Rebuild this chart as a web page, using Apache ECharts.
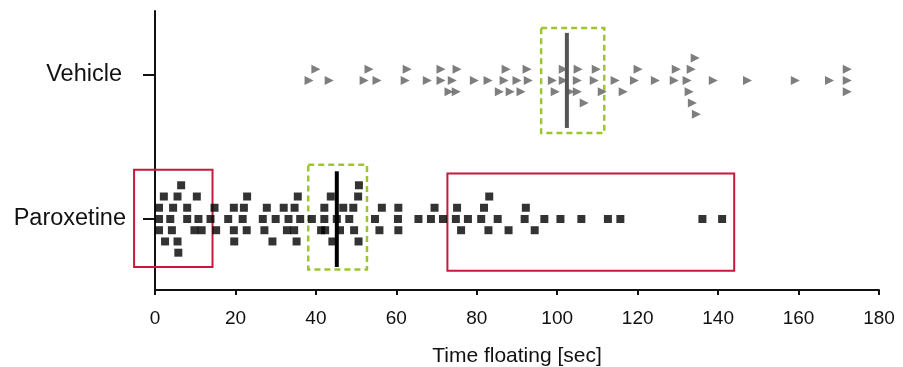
<!DOCTYPE html>
<html>
<head>
<meta charset="utf-8">
<script src="https://cdn.jsdelivr.net/npm/echarts@6/dist/echarts.min.js"></script>
<style>
  html, body { margin: 0; padding: 0; background: #fff; }
  #chart { width: 903px; height: 367px; }
</style>
</head>
<body>
<div id="chart"></div>
<script>
// y positions: Paroxetine = 0, Vehicle = 1; swarm rows offset by rowStep
const categories = ['Paroxetine', 'Vehicle']
const rowStep = 0.078

// Vehicle: time (sec) of each animal, grouped by swarm row
const vehicleRowLevels = [1.5, 0.5, -0.5, -1.5, -2.5, -3.5]
const vehicleRowTimes = [
  [134.3],
  [40.0, 53.2, 62.7, 71.1, 75.1, 87.3, 92.5, 101.5, 105.2, 109.7, 120.1, 129.6, 133.3, 172.1],
  [38.3, 43.3, 52.0, 55.2, 62.2, 67.7, 71.1, 73.9, 79.4, 82.8, 86.8, 90.0, 92.8, 98.8, 101.5,
    105.0, 109.2, 114.4, 119.2, 124.4, 129.1, 132.3, 138.8, 147.3, 159.2, 167.7, 172.1],
  [73.1, 74.9, 85.6, 88.3, 91.0, 99.5, 103.2, 105.0, 111.2, 116.4, 132.8, 172.1],
  [106.7, 133.6],
  [134.6],
]

// Paroxetine
const paroxRowLevels = [3, 2, 1, 0, -1, -2, -3]
const paroxRowTimes = [
  [6.5, 50.7],
  [2.2, 5.6, 10.4, 22.9, 35.5, 43.7, 50.5, 83.1],
  [1.0, 4.5, 8.0, 14.8, 19.6, 22.1, 27.8, 32.0, 34.7, 42.1, 46.8, 49.3, 56.4, 60.5, 69.5, 75.1, 81.8, 92.2],
  [1.0, 3.8, 8.0, 10.8, 13.8, 18.2, 21.8, 26.8, 30.0, 33.2, 36.1, 39.0, 42.1, 45.2, 48.3, 54.7, 60.4,
    65.5, 68.6, 71.6, 74.8, 77.8, 81.1, 85.2, 91.9, 96.8, 100.8, 106.0, 112.6, 115.7, 136.1, 141.0],
  [1.0, 4.2, 9.8, 11.6, 15.2, 19.6, 22.8, 27.2, 32.8, 34.6, 41.3, 42.3, 46.0, 49.5, 55.8, 60.5, 76.1, 82.9, 87.9, 94.4],
  [2.5, 5.6, 19.7, 29.2, 35.2, 44.1, 50.6],
  [5.8],
]

// group means (sec) and the vertical extent of each mean bar
const meanTimes = [45.2, 102.4]
const meanBarSpan = [[-0.333, 0.331], [-0.368, 0.292]]

// highlight boxes: [startSec, endSec, bottom, top, kind]
const boxes = [
  [-5.2, 14.3, -0.333, 0.342, 'red'],
  [72.7, 144.0, -0.359, 0.315, 'red'],
  [38.1, 52.7, -0.35, 0.377, 'green'],
  [96.0, 111.7, 0.597, 1.326, 'green'],
]

const xTicks = [0, 20, 40, 60, 80, 100, 120, 140, 160, 180]

function swarm(base, levels, times) {
  const out = []
  levels.forEach((lv, i) => {
    times[i].forEach((t) => out.push([t, base + lv * rowStep]))
  })
  return out
}

const font = "'Liberation Sans', Arial, sans-serif"
const chart = echarts.init(document.getElementById('chart'))

chart.setOption({
  animation: false,
  grid: { left: 155, right: 24, top: 11, bottom: 77, outerBoundsMode: 'none' },
  xAxis: {
    type: 'value',
    min: xTicks[0],
    max: xTicks[xTicks.length - 1],
    interval: 20,
    name: 'Time floating [sec]',
    nameLocation: 'middle',
    nameGap: 56,
    nameTextStyle: { fontFamily: font, fontSize: 21, color: '#111' },
    axisLine: { onZero: false, lineStyle: { color: '#111', width: 2 } },
    axisTick: { length: 5, lineStyle: { color: '#111', width: 2 } },
    axisLabel: { fontFamily: font, fontSize: 19, color: '#111', margin: 19 },
    splitLine: { show: false },
  },
  yAxis: {
    type: 'value',
    min: -0.493,
    max: 1.444,
    axisLine: { show: true, onZero: false, lineStyle: { color: '#111', width: 2 } },
    axisTick: { show: true, length: 12, customValues: [0, 1], lineStyle: { color: '#111', width: 2 } },
    axisLabel: {
      customValues: [0, 1],
      fontFamily: font,
      fontSize: 23.5,
      color: '#111',
      margin: 29,
      formatter: (v) => (Math.round(v) === 1 ? '{v|' + categories[1] + '}' : categories[0]),
      rich: { v: { fontFamily: font, fontSize: 23.5, color: '#111', padding: [0, 4, 0, 0] } },
    },
    splitLine: { show: false },
  },
  series: [
    {
      type: 'custom',
      clip: false,
      silent: true,
      z: 1,
      data: boxes,
      renderItem(params, api) {
        const p0 = api.coord([api.value(0), api.value(2)])
        const p1 = api.coord([api.value(1), api.value(3)])
        const red = boxes[params.dataIndex][4] === 'red'
        return {
          type: 'rect',
          shape: { x: p0[0], y: p1[1], width: p1[0] - p0[0], height: p0[1] - p1[1] },
          style: {
            fill: 'none',
            stroke: red ? '#c8193c' : '#9dc52f',
            lineWidth: red ? 2 : 2.5,
            lineDash: red ? null : [6, 4],
          },
        }
      },
    },
    {
      name: 'Vehicle',
      type: 'scatter',
      clip: false,
      symbol: 'triangle',
      symbolRotate: -90,
      symbolSize: 9,
      itemStyle: { color: '#5e5e5e' },
      z: 2,
      data: swarm(1, vehicleRowLevels, vehicleRowTimes),
    },
    {
      name: 'Paroxetine',
      type: 'scatter',
      clip: false,
      symbol: 'rect',
      symbolSize: 8,
      itemStyle: { color: '#000' },
      z: 2,
      data: swarm(0, paroxRowLevels, paroxRowTimes),
    },
    {
      type: 'line',
      symbol: 'none',
      z: 3,
      lineStyle: { color: '#000', width: 4 },
      data: meanBarSpan[0].map((d) => [meanTimes[0], d]),
    },
    {
      type: 'line',
      symbol: 'none',
      z: 3,
      lineStyle: { color: '#555', width: 4 },
      data: meanBarSpan[1].map((d) => [meanTimes[1], 1 + d]),
    },
  ],
})
</script>
</body>
</html>
